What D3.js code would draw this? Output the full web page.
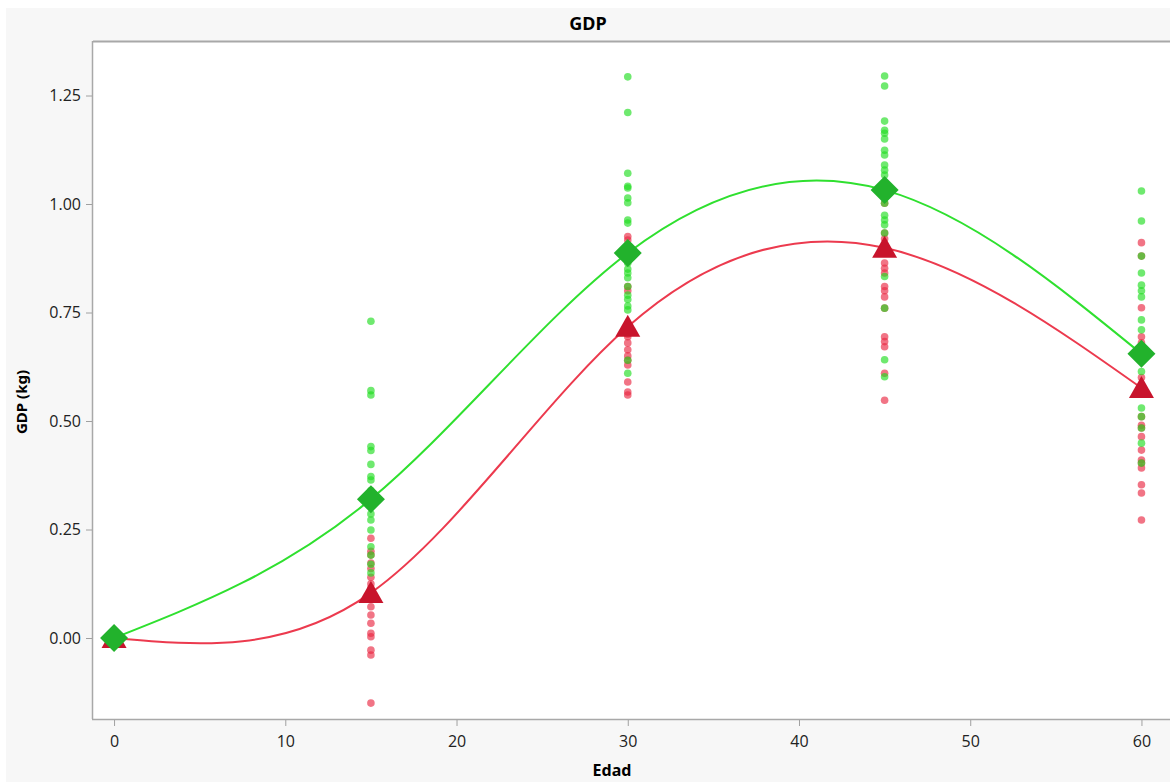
<!DOCTYPE html>
<html><head><meta charset="utf-8">
<script src="https://cdn.jsdelivr.net/npm/d3@7"></script>
<style>
html,body{margin:0;padding:0;background:#fff;}
svg{display:block;font-family:"Open Sans","Noto Sans",sans-serif;}
</style></head>
<body>
<svg id="c" width="1170" height="782"></svg>
<script>
// ---- data ----
const ages = [0, 15, 30, 45, 60];
const greenMeans = [0, 0.32, 0.887, 1.032, 0.655];
const redMeans = [0, 0.104, 0.717, 0.899, 0.576];
const xTicks = [0, 10, 20, 30, 40, 50, 60];
const yTicks = [0, 0.25, 0.5, 0.75, 1.0, 1.25];
const greenAt0 = [0];
const greenAt15 = [0.73, 0.57, 0.56, 0.441, 0.432, 0.40, 0.372, 0.364, 0.34, 0.33, 0.286, 0.272, 0.249, 0.21, 0.191, 0.17, 0.15];
const greenAt30 = [1.293, 1.211, 1.071, 1.041, 1.037, 1.014, 1.003, 0.963, 0.956, 0.864, 0.85, 0.841, 0.83, 0.81, 0.79, 0.78, 0.765, 0.756, 0.64, 0.61];
const greenAt45 = [1.295, 1.272, 1.191, 1.17, 1.163, 1.15, 1.124, 1.113, 1.09, 1.078, 1.067, 1.002, 0.974, 0.963, 0.952, 0.933, 0.833, 0.76, 0.641, 0.602];
const greenAt60 = [1.030, 0.961, 0.880, 0.841, 0.813, 0.80, 0.786, 0.733, 0.71, 0.65, 0.614, 0.53, 0.51, 0.484, 0.449, 0.403];
const redAt0 = [0];
const redAt15 = [0.23, 0.20, 0.191, 0.173, 0.16, 0.14, 0.125, 0.115, 0.072, 0.053, 0.034, 0.011, 0.003, -0.028, -0.039, -0.150];
const redAt30 = [0.925, 0.917, 0.90, 0.81, 0.80, 0.70, 0.694, 0.68, 0.664, 0.65, 0.64, 0.629, 0.59, 0.567, 0.56];
const redAt45 = [1.002, 0.933, 0.92, 0.864, 0.852, 0.841, 0.81, 0.80, 0.786, 0.76, 0.694, 0.683, 0.671, 0.61, 0.548];
const redAt60 = [0.911, 0.880, 0.761, 0.694, 0.68, 0.60, 0.51, 0.49, 0.484, 0.464, 0.433, 0.41, 0.403, 0.392, 0.353, 0.334, 0.272];

const greenDots = [greenAt0, greenAt15, greenAt30, greenAt45, greenAt60];
const redDots = [redAt0, redAt15, redAt30, redAt45, redAt60];

// ---- layout ----
const svg = d3.select("#c");
const W = 1170, H = 782;
const plot = {l: 93, t: 42, r: 1170, b: 719};

svg.append("rect").attr("x", 6).attr("y", 8).attr("width", W - 6).attr("height", H - 8).attr("fill", "#f7f7f7");
svg.append("rect").attr("x", plot.l).attr("y", plot.t).attr("width", plot.r - plot.l).attr("height", plot.b - plot.t).attr("fill", "#fff");

const x = d3.scaleLinear().domain([-1.23, 61.55]).range([plot.l, plot.r - 2]);
const y = d3.scaleLinear().domain([-0.1866, 1.3733]).range([plot.b, plot.t]);

// borders
svg.append("line").attr("x1", plot.l).attr("x2", plot.r).attr("y1", plot.t - 0.5).attr("y2", plot.t - 0.5).attr("stroke", "#a8a8a8").attr("stroke-width", 2);
svg.append("line").attr("x1", plot.l - 0.5).attr("x2", plot.l - 0.5).attr("y1", plot.t - 1).attr("y2", plot.b).attr("stroke", "#a8a8a8").attr("stroke-width", 1.5);
svg.append("line").attr("x1", plot.l - 1).attr("x2", plot.r).attr("y1", plot.b + 0.5).attr("y2", plot.b + 0.5).attr("stroke", "#a8a8a8").attr("stroke-width", 1.5);

// axes
const xAxis = d3.axisBottom(x).tickValues(xTicks).tickSize(6).tickPadding(10).tickFormat(d3.format("d"));
const gx = svg.append("g").attr("transform", `translate(0,${plot.b + 1})`).call(xAxis);
gx.select(".domain").remove();
gx.selectAll(".tick line").attr("stroke", "#a0a0a0");
gx.selectAll(".tick text").attr("fill", "#222").attr("font-size", 16).attr("font-family", "'Open Sans',sans-serif");

const yAxis = d3.axisLeft(y).tickValues(yTicks).tickSize(6).tickPadding(5).tickFormat(d3.format(".2f"));
const gy = svg.append("g").attr("transform", `translate(${plot.l - 1},0)`).call(yAxis);
gy.select(".domain").remove();
gy.selectAll(".tick line").attr("stroke", "#a0a0a0");
gy.selectAll(".tick text").attr("fill", "#222").attr("font-size", 16).attr("font-family", "'Open Sans',sans-serif");

// titles
svg.append("text").attr("x", 588).attr("y", 30).attr("text-anchor", "middle")
  .attr("font-size", 18).attr("font-weight", "bold").attr("fill", "#000").attr("font-family", "'Noto Sans',sans-serif").text("GDP");
svg.append("text").attr("x", 612).attr("y", 776).attr("text-anchor", "middle")
  .attr("font-size", 16).attr("font-weight", "bold").attr("fill", "#000").attr("font-family", "'Noto Sans',sans-serif").text("Edad");
svg.append("text").attr("transform", `translate(27,402) rotate(-90)`).attr("text-anchor", "middle")
  .attr("font-size", 15).attr("font-weight", "bold").attr("fill", "#000").attr("font-family", "'Noto Sans',sans-serif").text("GDP (kg)");

const clip = svg.append("defs").append("clipPath").attr("id", "pc");
clip.append("rect").attr("x", plot.l).attr("y", plot.t).attr("width", plot.r - plot.l).attr("height", plot.b - plot.t);
const g = svg.append("g").attr("clip-path", "url(#pc)");

// dots
function flat(arrs) {
  const out = [];
  arrs.forEach((vals, i) => vals.forEach(v => out.push({age: ages[i], v})));
  return out;
}
g.append("g").selectAll("circle").data(flat(redDots)).join("circle")
  .attr("cx", d => x(d.age)).attr("cy", d => y(d.v)).attr("r", 3.8)
  .attr("fill", "#ea2a44").attr("fill-opacity", 0.65);
g.append("g").selectAll("circle").data(flat(greenDots)).join("circle")
  .attr("cx", d => x(d.age)).attr("cy", d => y(d.v)).attr("r", 3.8)
  .attr("fill", "#22dd22").attr("fill-opacity", 0.65);

// curves
const line = d3.line().x((d, i) => x(ages[i])).y(d => y(d)).curve(d3.curveNatural);
g.append("path").datum(redMeans).attr("d", line).attr("fill", "none").attr("stroke", "#ec3a4e").attr("stroke-width", 2);
g.append("path").datum(greenMeans).attr("d", line).attr("fill", "none").attr("stroke", "#2fe02f").attr("stroke-width", 2);

// mean markers
g.append("g").selectAll("path").data(redMeans).join("path")
  .attr("transform", (d, i) => `translate(${x(ages[i])},${y(d)})`)
  .attr("d", "M0,-12 L12.5,10 L-12.5,10 Z").attr("fill", "#c8142c");
g.append("g").selectAll("path").data(greenMeans).join("path")
  .attr("transform", (d, i) => `translate(${x(ages[i])},${y(d)})`)
  .attr("d", "M0,-14 L14,0 L0,14 L-14,0 Z").attr("fill", "#22b22c");
</script>
</body></html>
